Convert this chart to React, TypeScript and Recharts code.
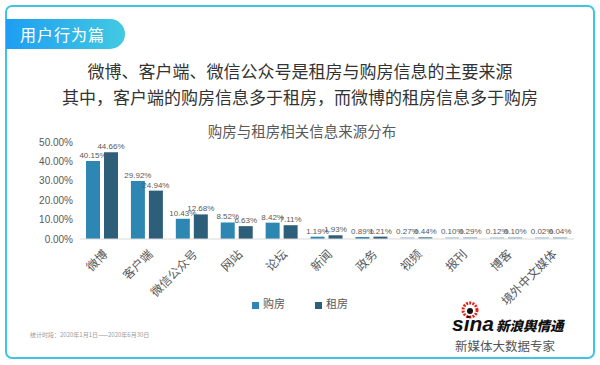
import { BarChart, Bar, XAxis, YAxis, LabelList, Legend, Cell } from "recharts";

const categories = ["微博", "客户端", "微信公众号", "网站", "论坛", "新闻", "政务", "视频", "报刊", "博客", "境外中文媒体"];
const buyValues = [40.15, 29.92, 10.43, 8.52, 8.42, 1.19, 0.89, 0.27, 0.1, 0.12, 0.02];
const rentValues = [44.66, 24.94, 12.68, 6.63, 7.11, 1.93, 1.21, 0.44, 0.29, 0.1, 0.04];
const yTicks = [0, 10, 20, 30, 40, 50];

const buyColors = ["#2e86b2", "#2e86b2", "#2e86b2", "#2e86b2", "#2e86b2", "#2e86b2", "#2e86b2", "#bfd6e3", "#c2d8e4", "#c2d8e4", "#c2d8e4"];
const rentColors = ["#2e5f7a", "#2e5f7a", "#2e5f7a", "#2e5f7a", "#2e5f7a", "#2e5f7a", "#2e5f7a", "#7d9cad", "#b3c9d5", "#b3c9d5", "#b3c9d5"];

const data = categories.map((name, i) => ({
  name,
  buy: buyValues[i],
  rent: rentValues[i],
}));

const cjk = '"Noto Sans CJK SC", "Noto Sans", sans-serif';
const num = '"Liberation Sans", Arial, sans-serif';
const pct = (v: any) => Number(v).toFixed(2) + "%";

export default function App() {
  return (
    <div style={{ position: "absolute", left: 0, top: 0, width: 600, height: 365, background: "#fff", fontFamily: cjk }}>
      <div
        style={{
          position: "absolute",
          left: 5,
          top: 5,
          width: 590,
          height: 354,
          border: "2.5px solid #40c4e6",
          borderRadius: 7,
          boxSizing: "border-box",
        }}
      />
      <div
        style={{
          position: "absolute",
          left: 6,
          top: 19,
          width: 119,
          height: 30,
          borderRadius: "0 15px 15px 0",
          background: "linear-gradient(90deg, #1e9ef2, #42c9e2)",
          color: "#fff",
          fontSize: 16,
          lineHeight: "30px",
          paddingLeft: 14,
          boxSizing: "border-box",
          letterSpacing: 1,
        }}
      >
        用户行为篇
      </div>
      <div style={{ position: "absolute", left: 0, top: 58, width: 600, textAlign: "center", fontSize: 17, lineHeight: "26px", color: "#333" }}>
        <div>微博、客户端、微信公众号是租房与购房信息的主要来源</div>
        <div>其中，客户端的购房信息多于租房，而微博的租房信息多于购房</div>
      </div>
      <div style={{ position: "absolute", left: 0, top: 121, width: 604, textAlign: "center", fontSize: 14.5, color: "#595959", lineHeight: "20px" }}>
        购房与租房相关信息来源分布
      </div>

      <div style={{ position: "absolute", left: 0, top: 0 }}>
        <BarChart
          width={600}
          height={365}
          data={data}
          margin={{ top: 142, right: 26, left: 8, bottom: 66 }}
          barSize={14}
          barGap={4}
        >
          <XAxis
            dataKey="name"
            height={60}
            interval={0}
            angle={-45}
            textAnchor="end"
            tickLine={false}
            tickMargin={4}
            axisLine={{ stroke: "#d9d9d9" }}
            tick={{ fill: "#595959", fontSize: 12, fontFamily: cjk }}
          />
          <YAxis
            width={72}
            domain={[0, 50]}
            ticks={yTicks}
            tickFormatter={pct}
            axisLine={false}
            tickLine={false}
            tickSize={0}
            tickMargin={7}
            tick={{ fill: "#595959", fontSize: 10, fontFamily: num }}
          />
          <Legend
            layout="horizontal"
            verticalAlign="middle"
            align="center"
            iconType="square"
            iconSize={7}
            itemSorter="dataKey"
            wrapperStyle={{ position: "absolute", top: 295, left: 15, width: 600, fontSize: 11, fontFamily: cjk }}
            formatter={(value: any) => <span style={{ color: "#595959", marginRight: 20 }}>{value}</span>}
          />
          <Bar dataKey="buy" name="购房" fill="#2e86b2" minPointSize={2} isAnimationActive={false}>
            {data.map((_, i) => (
              <Cell key={i} fill={buyColors[i]} />
            ))}
            <LabelList dataKey="buy" position="top" offset={3} formatter={pct} fill="#595959" fontSize={8} fontFamily={num} />
          </Bar>
          <Bar dataKey="rent" name="租房" fill="#2e5f7a" minPointSize={2} isAnimationActive={false}>
            {data.map((_, i) => (
              <Cell key={i} fill={rentColors[i]} />
            ))}
            <LabelList dataKey="rent" position="top" offset={3} formatter={pct} fill="#595959" fontSize={8} fontFamily={num} />
          </Bar>
        </BarChart>
      </div>

      <div style={{ position: "absolute", left: 30, top: 330, fontSize: 6, color: "#9a9a9a", whiteSpace: "nowrap" }}>
        统计时段：2020年1月1日——2020年6月30日
      </div>

      <svg style={{ position: "absolute", left: 458, top: 298 }} width={24} height={22}>
        <circle cx={12} cy={12} r={7} fill="none" stroke="#e2231a" strokeWidth={3} strokeDasharray="2 1.2" />
        <circle cx={12} cy={13} r={3} fill="#111" />
      </svg>
      <div
        style={{
          position: "absolute",
          left: 452,
          top: 313,
          fontSize: 21,
          fontWeight: 900,
          fontStyle: "italic",
          fontFamily: num,
          color: "#111",
          lineHeight: "22px",
        }}
      >
        sina
      </div>
      <div style={{ position: "absolute", left: 496, top: 317, fontSize: 13.5, fontWeight: 900, fontStyle: "italic", color: "#111", lineHeight: "16px", whiteSpace: "nowrap" }}>
        新浪舆情通
      </div>
      <div style={{ position: "absolute", left: 455, top: 338, fontSize: 12.5, color: "#555", lineHeight: "16px", whiteSpace: "nowrap" }}>
        新媒体大数据专家
      </div>
    </div>
  );
}
